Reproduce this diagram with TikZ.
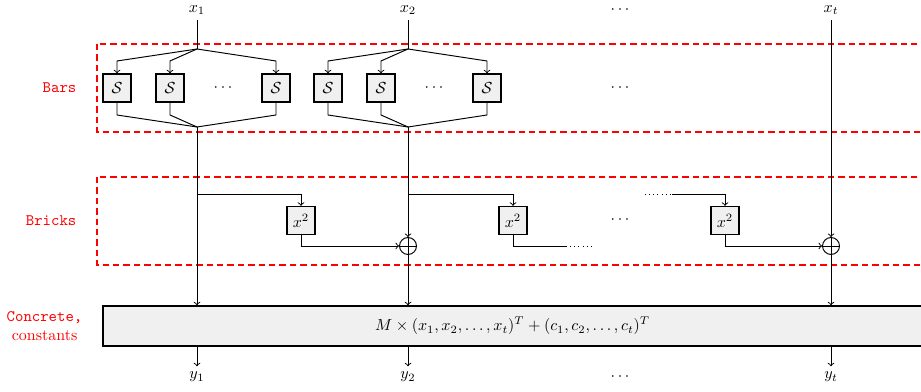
\documentclass[tikz,border=0pt]{standalone}
\usetikzlibrary{calc}
\begin{document}
\begin{tikzpicture}[x=0.625pt,y=-0.625pt,
  sbox/.style={draw,line width=0.8pt,fill=black!6,minimum size=17.5pt,inner sep=0pt},
  region/.style={draw=red,line width=0.9pt,dash pattern=on 4pt off 2.5pt},
  lab/.style={text=red,font=\ttfamily},
  ln/.style={line width=0.6pt},
  dotln/.style={line width=0.5pt,dash pattern=on 0.4pt off 2.2pt},
  xorn/.style={draw,circle,line width=0.6pt,minimum size=10.6pt,inner sep=0pt},
  >=to]
\clip (0,0) rectangle (921,392);

% regions
\draw[region] (97,44) rectangle (960,132);
\draw[region] (97,177) rectangle (960,265);
\node[lab,anchor=east] (lbars) at (82,88) {Bars};
\node[lab,anchor=east] (lbricks) at (82,221) {Bricks};
\node[text=red,anchor=east,align=center] (lconc) at (88,326) {{\ttfamily Concrete,}\\constants};

% inputs
\node (x1) at (197,10) {$x_1$};
\node (x2) at (408,10) {$x_2$};
\node (xd) at (620,10) {$\cdots$};
\node (xt) at (831,10) {$x_t$};

% helper rows
\coordinate (s1) at (197,49);
\coordinate (s2) at (408,49);
\coordinate (r1) at (0,61);
\coordinate (r2) at (0,115);
\coordinate (m1) at (197,127);
\coordinate (m2) at (408,127);
\coordinate (b1) at (0,194);

% S boxes
\node[sbox] (S11) at (117,88) {$\mathcal{S}$};
\node[sbox] (S12) at (170,88) {$\mathcal{S}$};
\node (D1) at (223,88) {$\cdots$};
\node[sbox] (S13) at (276,88) {$\mathcal{S}$};
\node[sbox] (S21) at (328,88) {$\mathcal{S}$};
\node[sbox] (S22) at (381,88) {$\mathcal{S}$};
\node (D2) at (434,88) {$\cdots$};
\node[sbox] (S23) at (487,88) {$\mathcal{S}$};
\node (D3) at (620,88) {$\cdots$};

\draw[ln] (x1.south) -- (s1);
\draw[ln] (x2.south) -- (s2);
\foreach \s in {S11,S12,S13}{
  \draw[ln,->] (s1) -- (\s.north |- r1) -- (\s.north);
  \draw[ln] (\s.south) -- (\s.south |- r2) -- (m1);
}
\foreach \s in {S21,S22,S23}{
  \draw[ln,->] (s2) -- (\s.north |- r1) -- (\s.north);
  \draw[ln] (\s.south) -- (\s.south |- r2) -- (m2);
}

% concrete box
\node[draw,line width=0.8pt,fill=black!6,minimum width=512pt,minimum height=25pt,inner sep=0pt] (C) at (512.5,326)
  {$M\times(x_1,x_2,\ldots,x_t)^T+(c_1,c_2,\ldots,c_t)^T$};

% bricks
\node[sbox] (Q1) at (301,220.5) {$x^2$};
\node[sbox] (Q2) at (513,220.5) {$x^2$};
\node (D4) at (620,220) {$\cdots$};
\node[sbox] (Q3) at (725,220.5) {$x^2$};
\node[xorn] (P2) at (408,246) {};
\node[xorn] (P3) at (831,246) {};
\foreach \p in {P2,P3}{
  \draw[ln] (\p.north) -- (\p.south);
  \draw[ln] (\p.west) -- (\p.east);
}
\coordinate (d1) at (566,246);
\coordinate (d2) at (592,246);
\coordinate (d3) at (645,194);
\coordinate (d4) at (672,194);

\draw[ln,->] (m1) -- (C.north -| m1);
\draw[ln,->] (m1 |- b1) -| (Q1.north);
\draw[ln,->] (Q1.south) |- (P2.west);
\draw[ln,->] (m2) -- (P2.north);
\draw[ln,->] (P2.south) -- (C.north -| P2);
\draw[ln,->] (m2 |- b1) -| (Q2.north);
\draw[ln] (Q2.south) |- (d1);
\draw[dotln] (d1) -- (d2);
\draw[dotln] (d3) -- (d4);
\draw[ln,->] (d4) -| (Q3.north);
\draw[ln,->] (Q3.south) |- (P3.west);
\draw[ln,->] (xt.south) -- (P3.north);
\draw[ln,->] (P3.south) -- (C.north -| P3);

% outputs
\node (y1) at (197,377) {$y_1$};
\node (y2) at (408,377) {$y_2$};
\node (yd) at (620,377) {$\cdots$};
\node (yt) at (831,377) {$y_t$};
\draw[ln,->] (C.south -| y1) -- (y1.north);
\draw[ln,->] (C.south -| y2) -- (y2.north);
\draw[ln,->] (C.south -| yt) -- (yt.north);
\end{tikzpicture}
\end{document}
